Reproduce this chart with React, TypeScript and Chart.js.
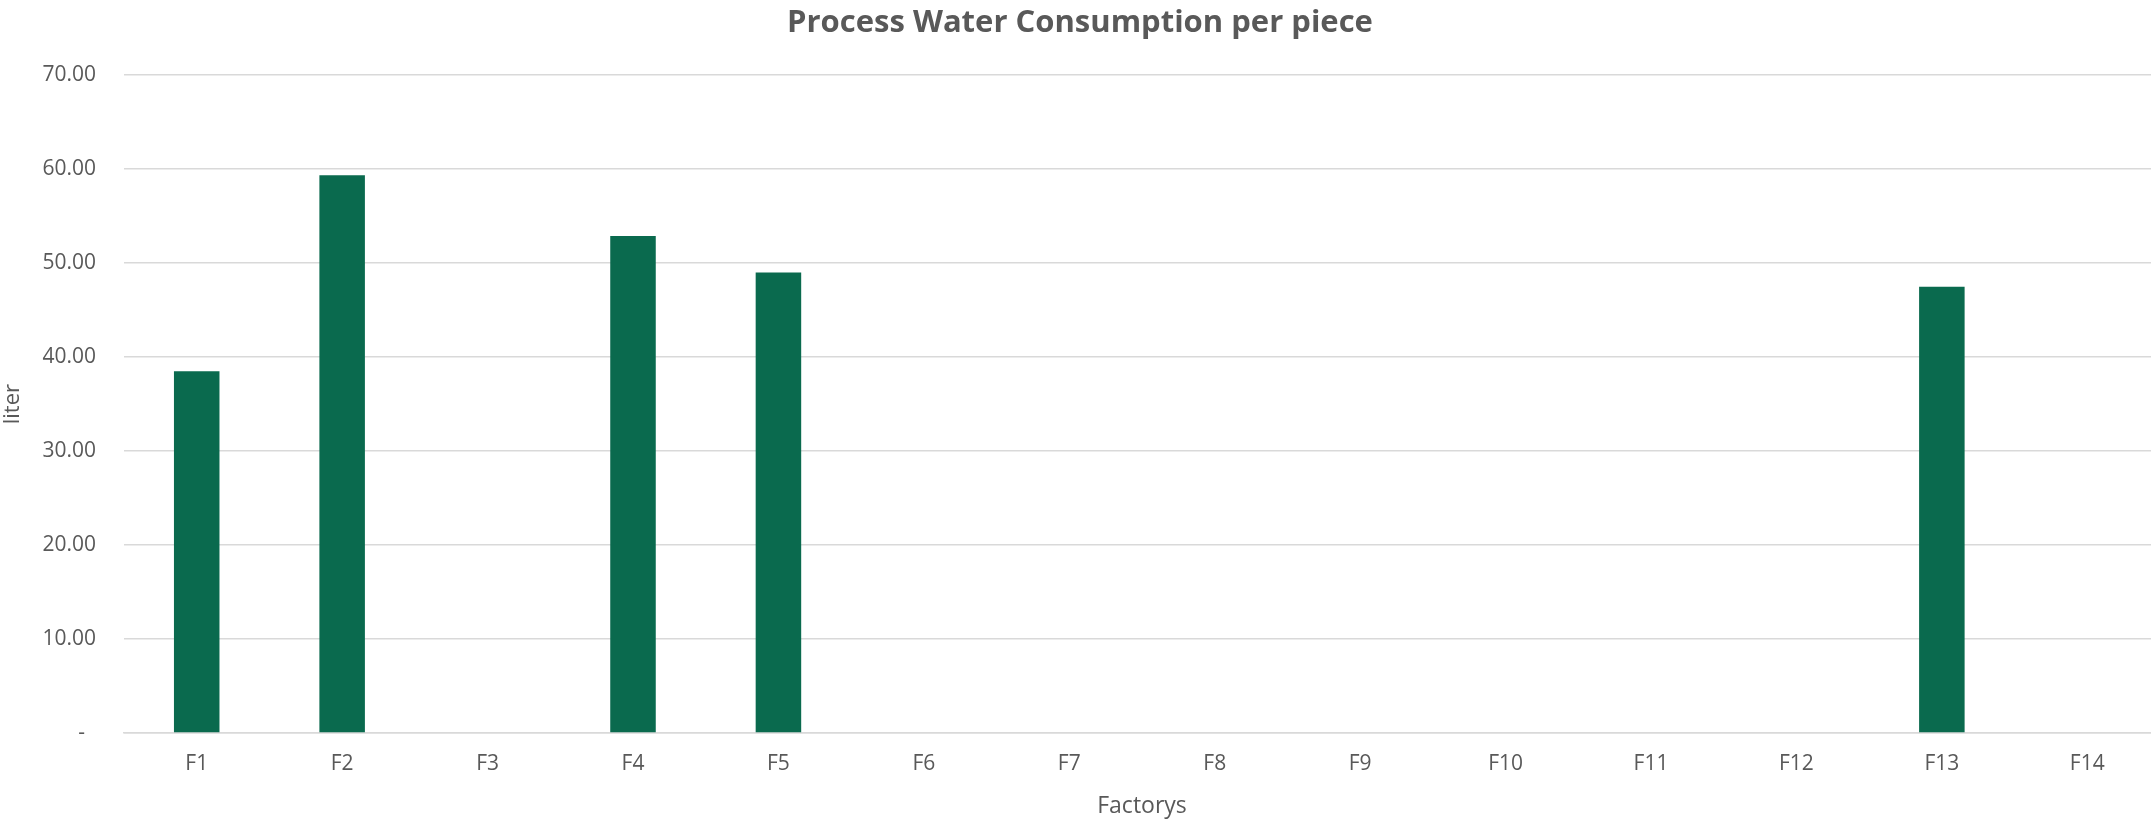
import React, { useEffect, useRef } from "react";
import { Chart, registerables } from "chart.js";

Chart.register(...registerables);

const categories = ["F1", "F2", "F3", "F4", "F5", "F6", "F7", "F8", "F9", "F10", "F11", "F12", "F13", "F14"];
const values = [38.5, 59.35, 0, 52.9, 49.0, 0, 0, 0, 0, 0, 0, 0, 47.5, 0];
const chartTitle = "Process Water Consumption per piece";
const xTitle = "Factorys";
const yTitle = "liter";

export default function App() {
  const ref = useRef<HTMLCanvasElement | null>(null);
  useEffect(() => {
    document.body.style.margin = "0";
    document.body.style.overflow = "hidden";
    const ctx = ref.current!;
    const font = "'Open Sans', sans-serif";
    const chart = new Chart(ctx, {
      type: "bar",
      data: {
        labels: categories,
        datasets: [
          {
            data: values,
            backgroundColor: "#0a6a4e",
            borderWidth: 0,
            categoryPercentage: 1,
            barPercentage: 0.313,
          },
        ],
      },
      options: {
        animation: false,
        responsive: false,
        maintainAspectRatio: false,
        layout: { padding: { left: 0, right: 0, top: 0, bottom: 0 } },
        plugins: {
          legend: { display: false },
          tooltip: { enabled: false },
          title: {
            display: true,
            text: chartTitle,
            color: "#595959",
            font: { family: font, size: 31, weight: "bold" },
            padding: { top: 5, bottom: 33 },
          },
        },
        scales: {
          x: {
            afterFit: (scale: any) => {
              scale.height = 89;
            },
            grid: { display: false, drawTicks: false },
            border: { display: true, color: "#d9d9d9", width: 1.5 },
            ticks: { color: "#595959", font: { family: font, size: 21 }, padding: 18 },
            title: {
              display: true,
              text: xTitle,
              color: "#595959",
              font: { family: font, size: 23 },
              padding: { top: 0, bottom: 2 },
            },
          },
          y: {
            min: 0,
            max: 70,
            afterFit: (scale: any) => {
              scale.width = 124;
            },
            grid: { color: "#d9d9d9", lineWidth: 1.5, drawTicks: false },
            border: { display: false },
            ticks: {
              stepSize: 10,
              color: "#595959",
              font: { family: font, size: 21 },
              padding: 28,
              callback: (v: any) => (Number(v) === 0 ? "-  " : Number(v).toFixed(2)),
            },
            title: {
              display: true,
              text: yTitle,
              color: "#595959",
              font: { family: font, size: 22 },
              padding: { top: 0, bottom: 0 },
            },
          },
        },
      },
    });
    return () => chart.destroy();
  }, []);
  return (
    <div style={{ width: 2160, height: 822 }}>
      <canvas ref={ref} width={2160} height={822} style={{ width: 2160, height: 822, display: "block" }} />
    </div>
  );
}
